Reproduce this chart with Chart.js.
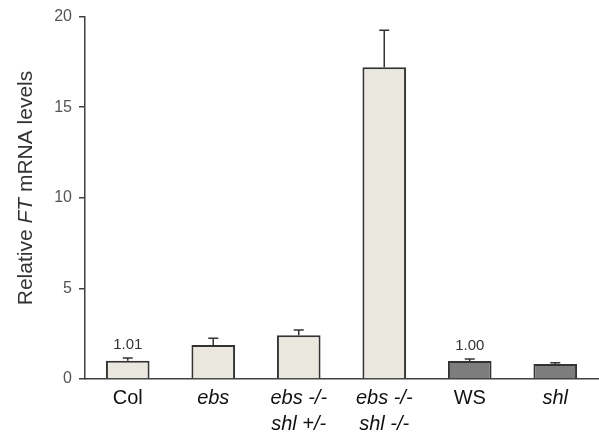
<!DOCTYPE html>
<html>
<head>
<meta charset="utf-8">
<script src="https://cdn.jsdelivr.net/npm/chart.js@4"></script>
<style>
  body { margin: 0; background: #fff; }
  #wrap { width: 599px; height: 436px; }
</style>
</head>
<body>
<div id="wrap"><canvas id="fig"></canvas></div>
<script>
// genotypes along the x axis
const categories = [['Col'], ['ebs'], ['ebs -/-', 'shl +/-'], ['ebs -/-', 'shl -/-'], ['WS'], ['shl']];
const italicCats = [false, true, true, true, false, true];
// relative FT mRNA levels and their error bars
const means = [1.01, 1.87, 2.42, 17.2, 1.00, 0.83];
const errors = [0.15, 0.38, 0.28, 2.05, 0.1, 0.06];
// numbers printed above some bars
const barNotes = ['1.01', '', '', '', '1.00', ''];
const yTicks = [0, 5, 10, 15, 20];

const fill = ['#eae8de', '#eae8de', '#eae8de', '#eae8de', '#7d7d7d', '#7d7d7d'];
const ink = '#333333';
const family = '"Liberation Sans", Arial, sans-serif';

// error bars + value labels
const extras = {
  id: 'extras',
  afterDatasetsDraw(chart) {
    const ctx = chart.ctx;
    const y = chart.scales.y;
    const meta = chart.getDatasetMeta(0);
    ctx.save();
    ctx.strokeStyle = ink;
    ctx.lineWidth = 1.5;
    meta.data.forEach((bar, i) => {
      const top = y.getPixelForValue(means[i]);
      const end = y.getPixelForValue(means[i] + errors[i]);
      ctx.beginPath();
      ctx.moveTo(bar.x, top);
      ctx.lineTo(bar.x, end);
      ctx.moveTo(bar.x - 5, end);
      ctx.lineTo(bar.x + 5, end);
      ctx.stroke();
      if (barNotes[i]) {
        ctx.fillStyle = ink;
        ctx.font = '15px ' + family;
        ctx.textAlign = 'center';
        ctx.textBaseline = 'alphabetic';
        ctx.fillText(barNotes[i], bar.x, end - 9);
      }
    });
    ctx.restore();
  },
  afterDraw(chart) {
    // y title with italic FT
    const ctx = chart.ctx;
    const parts = [['Relative ', ''], ['FT', 'italic '], [' mRNA levels', '']];
    ctx.save();
    ctx.translate(26, 188);
    ctx.rotate(-Math.PI / 2);
    ctx.fillStyle = ink;
    ctx.textBaseline = 'middle';
    let total = 0;
    parts.forEach(p => {
      ctx.font = p[1] + '21px ' + family;
      total += ctx.measureText(p[0]).width;
    });
    let x = -total / 2;
    parts.forEach(p => {
      ctx.font = p[1] + '21px ' + family;
      ctx.fillText(p[0], x, 0);
      x += ctx.measureText(p[0]).width;
    });
    ctx.restore();
  }
};

new Chart(document.getElementById('fig'), {
  type: 'bar',
  data: {
    labels: categories,
    datasets: [{
      data: means,
      backgroundColor: fill,
      borderColor: ink,
      borderWidth: 2,
      borderSkipped: 'bottom',
      categoryPercentage: 1,
      barPercentage: 0.51
    }]
  },
  options: {
    responsive: true,
    maintainAspectRatio: false,
    animation: false,
    layout: { padding: { top: 16, right: 1, left: 0, bottom: 0 } },
    plugins: { legend: { display: false }, tooltip: { enabled: false } },
    scales: {
      x: {
        grid: { display: false, drawTicks: false },
        border: { display: true, color: '#404040', width: 1.5 },
        afterFit(scale) { scale.height = 57; },
        ticks: {
          color: '#111',
          padding: 6,
          maxRotation: 0,
          autoSkip: false,
          font: (c) => ({
            family: family,
            size: 20,
            style: italicCats[c.index] ? 'italic' : 'normal',
            lineHeight: 1.3
          })
        }
      },
      y: {
        min: 0,
        max: 20,
        afterFit(scale) { scale.width = 85; },
        afterBuildTicks(scale) { scale.ticks = yTicks.map(v => ({ value: v })); },
        grid: { drawOnChartArea: false, drawTicks: true, tickLength: 6, color: '#404040', lineWidth: 1.5 },
        border: { display: true, color: '#404040', width: 1.5 },
        ticks: {
          color: '#555',
          padding: 7,
          font: { family: family, size: 16 }
        }
      }
    }
  },
  plugins: [extras]
});
</script>
</body>
</html>
